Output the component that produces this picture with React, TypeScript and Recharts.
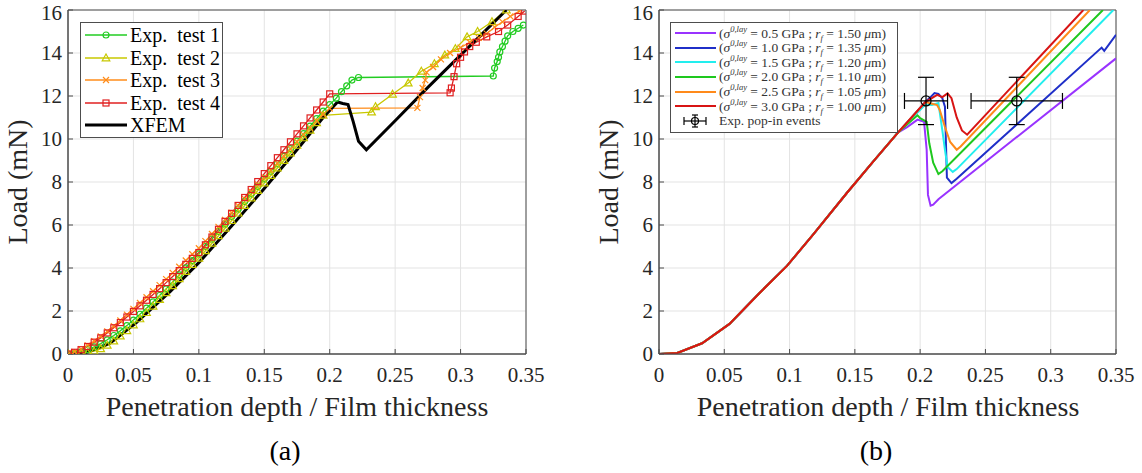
import React from 'react';
import {
  ComposedChart,
  Line,
  XAxis,
  YAxis,
  CartesianGrid,
  ReferenceArea,
  Scatter,
  ErrorBar,
} from 'recharts';

const xTicks = [0, 0.05, 0.1, 0.15, 0.2, 0.25, 0.3, 0.35];
const yTicks = [0, 2, 4, 6, 8, 10, 12, 14, 16];

// (a) experimental loading branch, sampled at the marker positions
const loadingDepth = [
  0, 0.005, 0.01, 0.015, 0.02, 0.025, 0.03, 0.035, 0.04, 0.045, 0.05, 0.055, 0.06, 0.065,
  0.07, 0.075, 0.08, 0.085, 0.09, 0.095, 0.1, 0.105, 0.11, 0.115, 0.12, 0.125, 0.13, 0.135,
  0.14, 0.145, 0.15, 0.155, 0.16, 0.165, 0.17, 0.175, 0.18, 0.185, 0.19, 0.195, 0.2,
];
const test1Load = [
  0, 0.03, 0.1, 0.2, 0.33, 0.48, 0.66, 0.86, 1.08, 1.32, 1.58, 1.85, 2.13, 2.42, 2.72, 3.03,
  3.35, 3.68, 4.01, 4.34, 4.66, 5.0, 5.35, 5.7, 6.05, 6.4, 6.75, 7.1, 7.45, 7.8, 8.15, 8.5,
  8.85, 9.2, 9.55, 9.9, 10.25, 10.6, 10.95, 11.3, 11.6,
];
const test1TailDepth = [0.205, 0.209, 0.213, 0.217, 0.222, 0.325, 0.326, 0.328, 0.329, 0.33, 0.332, 0.334, 0.336, 0.34, 0.344, 0.348];
const test1TailLoad = [11.9, 12.2, 12.47, 12.74, 12.86, 12.93, 13.3, 13.6, 13.8, 14.05, 14.3, 14.55, 14.8, 15.0, 15.15, 15.3];

const test2Load = [
  0, 0.0, 0.02, 0.06, 0.13, 0.24, 0.4, 0.6, 0.83, 1.08, 1.35, 1.63, 1.92, 2.22, 2.53, 2.85,
  3.17, 3.5, 3.83, 4.16, 4.45, 4.8, 5.15, 5.5, 5.85, 6.2, 6.55, 6.9, 7.25, 7.6, 7.95, 8.3,
  8.65, 9.0, 9.35, 9.7, 10.05, 10.4, 10.75, 11.1, 11.22,
];
const test2TailDepth = [0.232, 0.235, 0.248, 0.26, 0.27, 0.28, 0.288, 0.296, 0.305, 0.313, 0.324, 0.335];
const test2TailLoad = [11.25, 11.5, 12.08, 12.6, 13.15, 13.5, 13.9, 14.2, 14.75, 15.0, 15.45, 16.0];

const test3Load = [
  0, 0.1, 0.23, 0.4, 0.6, 0.82, 1.05, 1.3, 1.56, 1.83, 2.1, 2.37, 2.64, 2.92, 3.2, 3.48,
  3.77, 4.06, 4.35, 4.64, 4.92, 5.25, 5.58, 5.91, 6.24, 6.57, 6.9, 7.23, 7.56, 7.89, 8.22,
  8.55, 8.88, 9.21, 9.54, 9.87, 10.2, 10.52, 10.84, 11.14, 11.42,
];
const test3TailDepth = [0.267, 0.269, 0.271, 0.273, 0.274, 0.279, 0.285, 0.292, 0.3, 0.307, 0.314, 0.32, 0.326, 0.332, 0.338, 0.345];
const test3TailLoad = [11.45, 11.95, 12.37, 12.74, 13.1, 13.35, 13.7, 14.0, 14.25, 14.5, 14.7, 14.9, 15.2, 15.45, 15.7, 15.95];

const test4Load = [
  0, 0.08, 0.2, 0.35, 0.55, 0.75, 0.98, 1.22, 1.46, 1.72, 1.98, 2.24, 2.5, 2.77, 3.04, 3.32,
  3.6, 3.88, 4.17, 4.45, 4.72, 5.08, 5.44, 5.8, 6.17, 6.54, 6.91, 7.28, 7.65, 8.02, 8.39,
  8.76, 9.13, 9.5, 9.87, 10.24, 10.61, 10.98, 11.35, 11.72, 12.1,
];
const test4TailDepth = [0.292, 0.293, 0.295, 0.297, 0.3, 0.303, 0.307, 0.312, 0.32, 0.329, 0.336, 0.344, 0.349];
const test4TailLoad = [12.15, 12.37, 12.9, 13.5, 13.8, 14.05, 14.3, 14.5, 14.75, 15.0, 15.3, 15.7, 15.95];

const xfemDepth = [0, 0.013, 0.032, 0.052, 0.078, 0.1, 0.125, 0.15, 0.175, 0.195, 0.206, 0.21, 0.214, 0.218, 0.222, 0.228, 0.25, 0.275, 0.3, 0.335];
const xfemLoad = [0, 0.05, 0.5, 1.45, 2.9, 4.25, 5.95, 7.7, 9.5, 11.0, 11.72, 11.65, 11.6, 10.8, 9.9, 9.5, 10.85, 12.4, 13.9, 16.0];

// (b) simulations: common loading branch, then per-case tails
const commonDepth = [0, 0.014, 0.033, 0.054, 0.077, 0.098, 0.118, 0.144, 0.164, 0.183];
const commonLoad = [0, 0.05, 0.5, 1.4, 2.84, 4.1, 5.55, 7.5, 8.95, 10.3];

const s05Depth = [0.19, 0.198, 0.203, 0.205, 0.206, 0.208, 0.21, 0.214, 0.35];
const s05Load = [10.55, 10.9, 10.8, 9.5, 7.4, 6.9, 6.95, 7.2, 13.75];
const s10Depth = [0.204, 0.208, 0.211, 0.214, 0.217, 0.219, 0.2205, 0.224, 0.228, 0.339, 0.341, 0.35];
const s10Load = [11.72, 11.95, 12.14, 12.1, 11.9, 11.5, 8.2, 7.95, 8.15, 14.25, 14.1, 14.85];
const s15Depth = [0.204, 0.209, 0.214, 0.217, 0.219, 0.221, 0.225, 0.228, 0.348];
const s15Load = [11.6, 11.58, 11.67, 10.4, 9.5, 8.7, 8.47, 8.6, 16.0];
const s20Depth = [0.198, 0.2, 0.205, 0.207, 0.21, 0.214, 0.217, 0.34];
const s20Load = [11.1, 10.97, 10.8, 9.8, 8.9, 8.37, 8.5, 16.0];
const s25Depth = [0.204, 0.207, 0.213, 0.215, 0.219, 0.223, 0.228, 0.231, 0.33];
const s25Load = [11.72, 11.67, 11.58, 11.35, 10.56, 9.86, 9.5, 9.65, 16.0];
const s30Depth = [0.204, 0.213, 0.217, 0.221, 0.224, 0.228, 0.232, 0.236, 0.325];
const s30Load = [11.72, 12.05, 11.95, 12.12, 11.9, 11.0, 10.4, 10.2, 16.0];

const popinDepth = [0.2045, 0.274];
const popinLoad = [11.77, 11.77];
const popinDepthErr = [0.0165, 0.035];
const popinLoadErr = [1.1, 1.1];

const zip = (xs: number[], ys: number[]) => xs.map((x, i) => ({ x, y: ys[i] }));
const withCommon = (xs: number[], ys: number[]) => {
  const cut = xs[0];
  const head = zip(commonDepth, commonLoad).filter((p) => p.x < cut);
  return head.concat(zip(xs, ys));
};

const test1 = zip(loadingDepth.concat(test1TailDepth), test1Load.concat(test1TailLoad));
const test2 = zip(loadingDepth.slice(0, 40).concat(test2TailDepth), test2Load.slice(0, 40).concat(test2TailLoad));
const test3 = zip(loadingDepth.concat(test3TailDepth), test3Load.concat(test3TailLoad));
const test4 = zip(loadingDepth.concat(test4TailDepth), test4Load.concat(test4TailLoad));
const xfem = zip(xfemDepth, xfemLoad);

const sims = [
  { color: '#9933ff', s: '0.5', r: '1.50', data: withCommon(s05Depth, s05Load) },
  { color: '#1f2fc8', s: '1.0', r: '1.35', data: withCommon(s10Depth, s10Load) },
  { color: '#22eeee', s: '1.5', r: '1.20', data: withCommon(s15Depth, s15Load) },
  { color: '#1ec81e', s: '2.0', r: '1.10', data: withCommon(s20Depth, s20Load) },
  { color: '#ff8a1a', s: '2.5', r: '1.05', data: withCommon(s25Depth, s25Load) },
  { color: '#d81414', s: '3.0', r: '1.00', data: withCommon(s30Depth, s30Load) },
];

const popin = popinDepth.map((x, i) => ({ x, y: popinLoad[i], ex: popinDepthErr[i], ey: popinLoadErr[i] }));

const serif = "'Liberation Serif', 'DejaVu Serif', 'Noto Serif', serif";
const axisColor = '#4d4d4d';
const tickStyle = { fontFamily: serif, fontSize: 21, fill: '#262626' };

const circleDot = (c: string) => (p: any) => (
  <circle key={p.index} cx={p.cx} cy={p.cy} r={3} fill="none" stroke={c} strokeWidth={1.2} />
);
const triDot = (c: string) => (p: any) => (
  <polygon key={p.index} points={`${p.cx},${p.cy - 4} ${p.cx - 3.8},${p.cy + 2.8} ${p.cx + 3.8},${p.cy + 2.8}`} fill="none" stroke={c} strokeWidth={1.2} />
);
const crossDot = (c: string) => (p: any) => (
  <path key={p.index} d={`M${p.cx - 3},${p.cy - 3}L${p.cx + 3},${p.cy + 3}M${p.cx + 3},${p.cy - 3}L${p.cx - 3},${p.cy + 3}`} stroke={c} strokeWidth={1.2} />
);
const squareDot = (c: string) => (p: any) => (
  <rect key={p.index} x={p.cx - 3} y={p.cy - 3} width={6} height={6} fill="none" stroke={c} strokeWidth={1.2} />
);

const axes = () => [
  <CartesianGrid key="g" stroke="#e3e3e3" horizontalValues={yTicks} verticalValues={xTicks} />,
  <XAxis key="x" type="number" dataKey="x" domain={[0, 0.35]} ticks={xTicks} allowDataOverflow
    height={46} tickSize={-5} tickMargin={18} stroke={axisColor} tick={tickStyle} tickFormatter={(v: number) => String(v)} />,
  <XAxis key="xt" xAxisId="top" orientation="top" type="number" dataKey="x" domain={[0, 0.35]} ticks={xTicks}
    allowDataOverflow height={0} tickSize={-5} tick={false} axisLine={false} stroke={axisColor} />,
  <YAxis key="y" type="number" domain={[0, 16]} ticks={yTicks} allowDataOverflow width={68}
    tickSize={-5} tickMargin={11} stroke={axisColor} tick={tickStyle} />,
  <YAxis key="yr" yAxisId="right" orientation="right" type="number" domain={[0, 16]} ticks={yTicks}
    allowDataOverflow width={0} tickSize={-5} tick={false} axisLine={false} stroke={axisColor} />,
  <ReferenceArea key="box" x1={0} x2={0.35} y1={0} y2={16} fill="none" stroke={axisColor} strokeWidth={1} ifOverflow="visible" />,
];

const abs = (left: number, top: number): React.CSSProperties => ({ position: 'absolute', left, top });

const AxisTitles = ({ left, plotLeft, tag }: { left: number; plotLeft: number; tag: string }) => (
  <>
    <div style={{ ...abs(plotLeft - 50 + left, 182), transform: 'translate(-50%, -50%) rotate(-90deg)', fontFamily: serif, fontSize: 28, color: '#262626', whiteSpace: 'nowrap' }}>
      Load (mN)
    </div>
    <div style={{ ...abs(left + 229 + plotLeft, 407), transform: 'translate(-50%, -50%)', fontFamily: serif, fontSize: 28, color: '#262626', whiteSpace: 'nowrap' }}>
      Penetration depth / Film thickness
    </div>
    <div style={{ ...abs(left + 217 + plotLeft, 451), transform: 'translate(-50%, -50%)', fontFamily: serif, fontSize: 28, color: '#000', whiteSpace: 'nowrap' }}>
      ({tag})
    </div>
  </>
);

const expLegend = [
  { label: 'Exp.  test 1', color: '#22cc22', m: 'o' },
  { label: 'Exp.  test 2', color: '#c8c800', m: '^' },
  { label: 'Exp.  test 3', color: '#ff8c1a', m: 'x' },
  { label: 'Exp.  test 4', color: '#e02020', m: 's' },
  { label: 'XFEM', color: '#000000', m: '' },
];

const markerIcon = (m: string, c: string) => {
  const p = { cx: 22, cy: 6, index: 0 };
  if (m === 'o') return circleDot(c)(p);
  if (m === '^') return triDot(c)(p);
  if (m === 'x') return crossDot(c)(p);
  if (m === 's') return squareDot(c)(p);
  return null;
};

export default function App() {
  return (
    <div style={{ position: 'absolute', left: 0, top: 0, width: 1142, height: 473, background: '#fff' }}>
      {/* (a) */}
      <div style={abs(0, 0)}>
        <ComposedChart width={560} height={400} margin={{ top: 10, right: 34, bottom: 0, left: 0 }}>
          {axes()}
          <Line data={test1} dataKey="y" stroke="#22cc22" strokeWidth={1.3} dot={circleDot('#22cc22')} activeDot={false} isAnimationActive={false} />
          <Line data={test2} dataKey="y" stroke="#c8c800" strokeWidth={1.3} dot={triDot('#c8c800')} activeDot={false} isAnimationActive={false} />
          <Line data={test3} dataKey="y" stroke="#ff8c1a" strokeWidth={1.3} dot={crossDot('#ff8c1a')} activeDot={false} isAnimationActive={false} />
          <Line data={test4} dataKey="y" stroke="#e02020" strokeWidth={1.3} dot={squareDot('#e02020')} activeDot={false} isAnimationActive={false} />
          <Line data={xfem} dataKey="y" stroke="#000" strokeWidth={3} dot={false} activeDot={false} isAnimationActive={false} />
        </ComposedChart>
      </div>
      <AxisTitles left={0} plotLeft={68} tag="a" />
      <div style={{ ...abs(80, 22), width: 141, height: 113, border: `1px solid ${axisColor}`, background: '#fff', paddingTop: 1, overflow: 'visible' }}>
        {expLegend.map((e) => (
          <div key={e.label} style={{ height: 22.5, display: 'flex', alignItems: 'center' }}>
            <svg width={48} height={12} style={{ marginLeft: 3, flexShrink: 0 }}>
              <line x1={1} y1={6} x2={43} y2={6} stroke={e.color} strokeWidth={e.m ? 1.5 : 3} />
              {markerIcon(e.m, e.color)}
            </svg>
            <span style={{ fontFamily: serif, fontSize: 20, lineHeight: '22px', color: '#000', whiteSpace: 'pre', marginLeft: -2 }}>{e.label}</span>
          </div>
        ))}
      </div>

      {/* (b) */}
      <div style={abs(591, 0)}>
        <ComposedChart width={551} height={400} margin={{ top: 10, right: 26, bottom: 0, left: 0 }}>
          {axes()}
          {sims.map((s) => (
            <Line key={s.s} data={s.data} dataKey="y" stroke={s.color} strokeWidth={2} dot={false} activeDot={false} isAnimationActive={false} />
          ))}
          <Scatter data={popin} dataKey="y" isAnimationActive={false}
            shape={(p: any) => <circle cx={p.cx} cy={p.cy} r={5} fill="none" stroke="#000" strokeWidth={1.2} />}>
            <ErrorBar dataKey="ex" direction="x" width={8} stroke="#000" strokeWidth={1.2} isAnimationActive={false} />
            <ErrorBar dataKey="ey" direction="y" width={8} stroke="#000" strokeWidth={1.2} isAnimationActive={false} />
          </Scatter>
        </ComposedChart>
      </div>
      <AxisTitles left={591} plotLeft={68} tag="b" />
      <div style={{ ...abs(670, 22), width: 226, height: 106, border: `1px solid ${axisColor}`, background: '#fff', paddingTop: 3 }}>
        {sims.map((s) => (
          <div key={s.s} style={{ height: 14.6, display: 'flex', alignItems: 'center' }}>
            <svg width={46} height={8} style={{ marginLeft: 4 }}>
              <line x1={0} y1={4} x2={41} y2={4} stroke={s.color} strokeWidth={2} />
            </svg>
            <span style={{ fontFamily: serif, fontSize: 13.5, color: '#333', whiteSpace: 'nowrap', marginLeft: -2 }}>
              (<i>σ</i><sup style={{ fontSize: 8.5 }}><i>0,lay</i></sup> = {s.s} GPa ; <i>r</i><sub style={{ fontSize: 8.5 }}><i>f</i></sub> = {s.r} <i>μ</i>m)
            </span>
          </div>
        ))}
        <div style={{ height: 14.6, display: 'flex', alignItems: 'center' }}>
          <svg width={46} height={14} style={{ marginLeft: 4 }}>
            <line x1={9} y1={7} x2={31} y2={7} stroke="#000" strokeWidth={1.2} />
            <line x1={9} y1={3} x2={9} y2={11} stroke="#000" strokeWidth={1.2} />
            <line x1={31} y1={3} x2={31} y2={11} stroke="#000" strokeWidth={1.2} />
            <line x1={20} y1={1} x2={20} y2={13} stroke="#000" strokeWidth={1.2} />
            <line x1={17} y1={1} x2={23} y2={1} stroke="#000" strokeWidth={1.2} />
            <line x1={17} y1={13} x2={23} y2={13} stroke="#000" strokeWidth={1.2} />
            <circle cx={20} cy={7} r={3.5} fill="none" stroke="#000" strokeWidth={1.2} />
          </svg>
          <span style={{ fontFamily: serif, fontSize: 13.5, color: '#333', whiteSpace: 'nowrap', marginLeft: -2 }}>
            Exp.  pop-in events
          </span>
        </div>
      </div>
    </div>
  );
}
